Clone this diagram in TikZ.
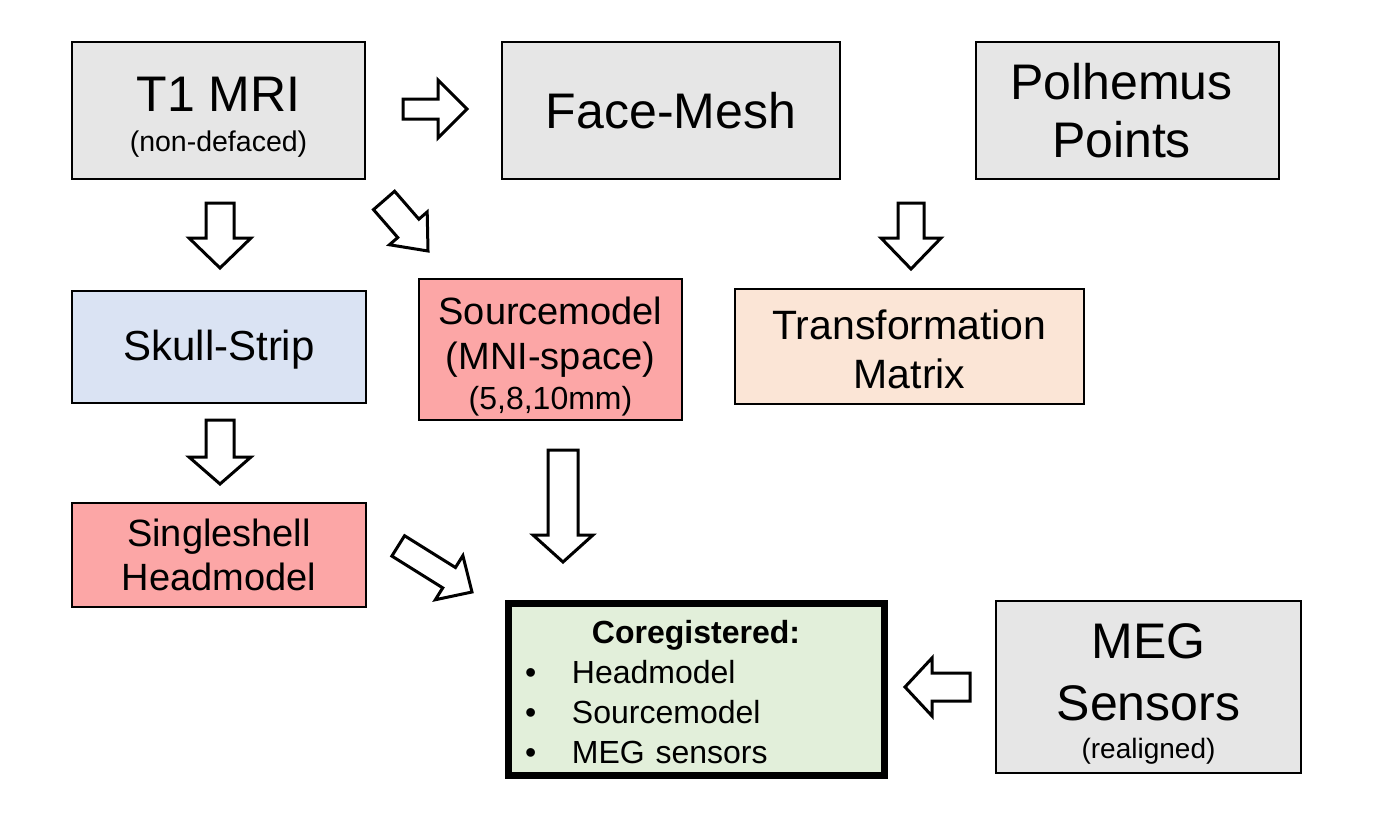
\documentclass[tikz,border=0pt]{standalone}
\usepackage{fontspec}
\setmainfont{Liberation Sans}
\definecolor{boxgray}{HTML}{E6E6E6}
\definecolor{boxblue}{HTML}{DAE3F3}
\definecolor{boxpink}{HTML}{FCA6A6}
\definecolor{boxpeach}{HTML}{FBE5D6}
\definecolor{boxgreen}{HTML}{E2EFDA}
\tikzset{
  box/.style={draw=black, line width=1.3pt, minimum width=#1, inner sep=0pt, align=center},
  gbox/.style={box=#1, fill=boxgray},
  blockarrow/.style={draw=black, fill=white, line width=3pt, line join=miter},
}
% #1 tip, #2 angle, #3 length, #4 shaft half width, #5 head half width, #6 head length
\newcommand\blockarr[6]{%
  \draw[blockarrow, shift={#1}, rotate=#2] (0,0) -- (-#6,#5) -- (-#6,#4) -- (-#3,#4)
    -- (-#3,-#4) -- (-#6,-#4) -- (-#6,-#5) -- cycle;}
\begin{document}
\begin{tikzpicture}[x=1pt,y=-1pt]
\useasboundingbox (0,0) rectangle (1391,835);
\fill[white] (0,0) rectangle (1391,835);

% boxes
\node[gbox=293pt, minimum height=137pt] (t1) at (218.5,110.5) {};
\node[font=\fontsize{28.5}{40}\selectfont, align=center] (t1txt) at ([yshift=-7pt]t1.center)
  {{\fontsize{50}{40}\selectfont T1 MRI}\\(non-defaced)};
\node[gbox=338pt, minimum height=137pt, font=\fontsize{50}{58}\selectfont] (face) at (671,110.5) {Face-Mesh};
\node[gbox=303pt, minimum height=137pt] (pol) at (1127.5,110.5) {};
\node[font=\fontsize{50}{58}\selectfont, align=center] (poltxt) at ([xshift=-6pt]pol.center) {Polhemus\\Points};
\node[box=294pt, minimum height=112pt, fill=boxblue] (skull) at (219,347) {};
\node[font=\fontsize{42}{48}\selectfont] (skulltxt) at ([yshift=-3pt]skull.center) {Skull-Strip};
\node[box=263pt, minimum height=141pt, fill=boxpink] (src) at (550.5,349.5) {};
\node[font=\fontsize{32}{45}\selectfont, align=center] (srctxt) at ([yshift=-7.5pt]src.center)
  {{\fontsize{38}{45}\selectfont Sourcemodel}\\{\fontsize{38}{45}\selectfont (MNI-space)}\\[-5pt](5,8,10mm)};
\node[box=349pt, minimum height=115pt, fill=boxpeach] (trans) at (909.5,346.5) {};
\node[font=\fontsize{41}{49}\selectfont, align=center] (transtxt) at ([yshift=-3pt]trans.center) {Transformation\\Matrix};
\node[box=294pt, minimum height=104pt, fill=boxpink, font=\fontsize{38}{44}\selectfont] (single) at (219,555) {Singleshell\\Headmodel};
\node[draw=black, line width=7pt, fill=boxgreen, minimum width=376pt, minimum height=172pt] (coreg) at (696,689) {};
\node[font=\fontsize{32}{40}\selectfont, align=left, text width=360pt] (coregtxt) at ([yshift=-3pt]coreg.center)
  {\makebox[\linewidth][c]{\bfseries Coregistered:}\\
   \hspace*{9pt}\makebox[47pt][l]{\textbullet}Headmodel\\
   \hspace*{9pt}\makebox[47pt][l]{\textbullet}Sourcemodel\\
   \hspace*{9pt}\makebox[47pt][l]{\textbullet}MEG sensors};
\node[gbox=305pt, minimum height=172pt] (meg) at (1148.5,687) {};
\node[font=\fontsize{28}{34}\selectfont, align=center] (megtxt) at ([yshift=-7pt]meg.center)
  {{\fontsize{50}{34}\selectfont MEG}\\[26pt]{\fontsize{50}{34}\selectfont Sensors}\\[4pt](realigned)};

% block arrows
\blockarr{(467,109)}{0}{64}{10}{29}{29}
\blockarr{(220,268)}{-90}{65}{14}{31}{30}
\blockarr{(428,251)}{-49}{67}{14}{25}{30}
\blockarr{(911,269)}{-90}{66}{13}{30}{31}
\blockarr{(220,484)}{-90}{64}{14}{31}{27}
\blockarr{(563,562)}{-90}{112}{15}{30}{27}
\blockarr{(472,592)}{-32}{87}{12}{26}{27}
\blockarr{(905,687)}{180}{65}{14}{29}{27}
\end{tikzpicture}
\end{document}
